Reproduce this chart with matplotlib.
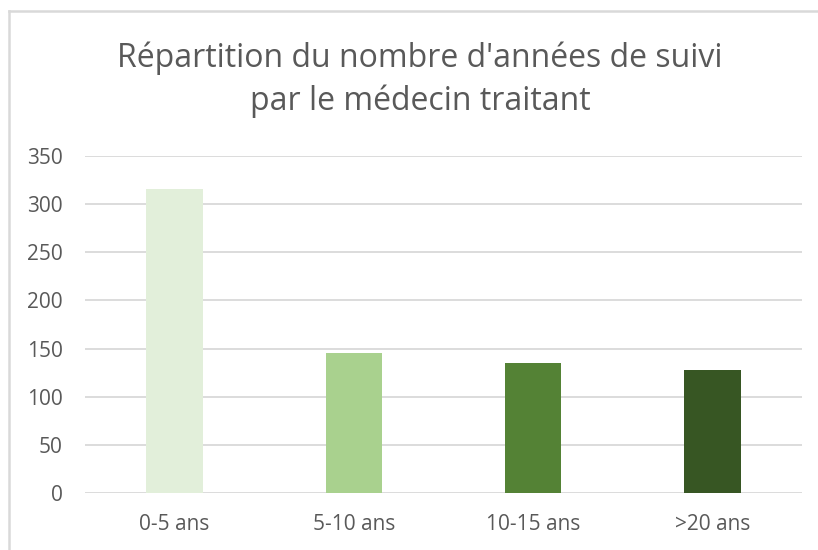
import matplotlib.pyplot as plt
import numpy as np
from matplotlib.lines import Line2D

categories = ['0-5 ans', '5-10 ans', '10-15 ans', '>20 ans']
values = [315, 145, 135, 128]
colors = ['#E2EFDA', '#A9D18E', '#548235', '#375623']
yticks = [0, 50, 100, 150, 200, 250, 300, 350]
title_lines = ["Répartition du nombre d'années de suivi", "par le médecin traitant"]

plt.rcParams['font.family'] = ['Open Sans', 'DejaVu Sans']
txt = '#595959'

fig = plt.figure(figsize=(8.18, 5.5), dpi=100, facecolor='w')
ax = fig.add_axes([85/818, 1-493.3/550, (802-85)/818, (493.3-155.7)/550])

x = np.arange(len(categories))
ax.bar(x, values, width=0.315, color=colors, zorder=3)

ax.set_xlim(-0.5, 3.5)
ax.set_ylim(0, 350)
ax.set_yticks(yticks)
ax.set_xticks(x)
ax.set_xticklabels(categories)
ax.grid(axis='y', color='#D9D9D9', linewidth=1.3, zorder=0)
for s in ax.spines.values():
    s.set_visible(False)
ax.tick_params(axis='both', length=0, labelsize=15, labelcolor=txt)
ax.tick_params(axis='y', pad=16)
ax.tick_params(axis='x', pad=15)

# title, one line at a time (baselines)
fig.text(420/818, 1-66.7/550, title_lines[0], ha='center', va='baseline', fontsize=23, color=txt)
fig.text(420/818, 1-110/550, title_lines[1], ha='center', va='baseline', fontsize=23, color=txt)

# chart border (left and top)
fig.add_artist(Line2D([8.5/818, 8.5/818], [0, 1-11/550], transform=fig.transFigure,
                      color='#D9D9D9', linewidth=1.8))
fig.add_artist(Line2D([8.5/818, 1], [1-11/550, 1-11/550], transform=fig.transFigure,
                      color='#D9D9D9', linewidth=1.8))

fig.savefig('out.png', dpi=100)
